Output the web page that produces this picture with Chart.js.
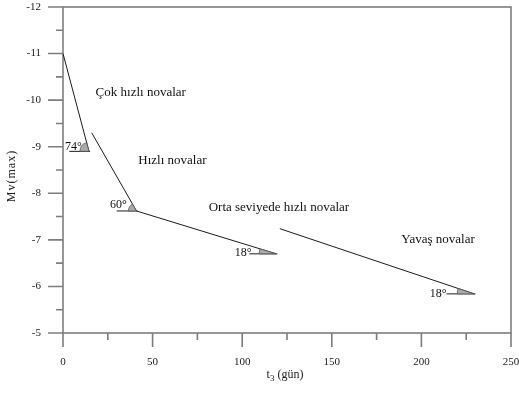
<!DOCTYPE html>
<html>
<head>
<meta charset="utf-8">
<script src="https://cdn.jsdelivr.net/npm/chart.js@4.4.1/dist/chart.umd.min.js"></script>
<style>
  html, body { margin: 0; padding: 0; background: #fff; }
  #wrap { width: 519px; height: 396px; }
</style>
</head>
<body>
<div id="wrap"><canvas id="novaChart" width="519" height="396"></canvas></div>
<script>
// axis ticks
const xTicks = [0, 50, 100, 150, 200, 250];
const xMinor = [25, 75, 125, 175, 225];
const yTicks = [-12, -11, -10, -9, -8, -7, -6, -5];
const yMinor = [-11.5, -10.5, -9.5, -8.5, -7.5, -6.5, -5.5];

// decline segments: t3 (days) and Mv(max)
const veryFastT = [0, 14.5];
const veryFastMv = [-11, -8.9];
const fastT = [16, 41];
const fastMv = [-9.3, -7.62];
const mediumT = [41, 119];
const mediumMv = [-7.62, -6.7];
const slowT = [121, 229.5];
const slowMv = [-7.24, -5.84];

// angle markers at the lower end of each segment
const angleText = ['74°', '60°', '18°', '18°'];
const angleBaseStartT = [3.5, 30, 104, 214];
const angleLabelT = [1.1, 26.2, 95.9, 204.6];
const angleLabelMv = [-8.99, -7.75, -6.72, -5.84];

// class names
const regionText = ['Çok hızlı novalar', 'Hızlı novalar', 'Orta seviyede hızlı novalar', 'Yavaş novalar'];
const regionT = [18.2, 42, 81.3, 188.8];
const regionMv = [-10.17, -8.71, -7.7, -7.0];

const segT = [veryFastT, fastT, mediumT, slowT];
const segMv = [veryFastMv, fastMv, mediumMv, slowMv];

const AXIS = '#7d7d7d';
const SERIF = "'Liberation Serif', 'Times New Roman', serif";
const wedgeRadius = [9, 8, 17, 17];

const toPts = (ts, ms) => ts.map((t, i) => ({ x: t, y: ms[i] }));

const datasets = [];
segT.forEach((ts, i) => {
  datasets.push({
    data: toPts(ts, segMv[i]),
    showLine: true, borderColor: '#1c1c1c', borderWidth: 1, pointRadius: 0
  });
  // short horizontal base under the angle marker
  const endT = ts[1], endMv = segMv[i][1];
  datasets.push({
    data: [{ x: angleBaseStartT[i], y: endMv }, { x: endT + 0.6, y: endMv }],
    showLine: true, borderColor: '#1c1c1c', borderWidth: 1, pointRadius: 0
  });
});

// box, tick marks, tick labels and axis titles
const framePlugin = {
  id: 'frame',
  beforeDatasetsDraw(chart) {
    const { ctx, chartArea: a, scales: { x, y } } = chart;
    ctx.save();
    ctx.strokeStyle = AXIS;
    ctx.lineWidth = 1.6;
    ctx.strokeRect(a.left, a.top, a.right - a.left, a.bottom - a.top);
    ctx.beginPath();
    yTicks.forEach(v => { const p = y.getPixelForValue(v); ctx.moveTo(a.left - 15, p); ctx.lineTo(a.left, p); });
    yMinor.forEach(v => { const p = y.getPixelForValue(v); ctx.moveTo(a.left - 7, p); ctx.lineTo(a.left, p); });
    xTicks.forEach(v => { const p = x.getPixelForValue(v); ctx.moveTo(p, a.bottom); ctx.lineTo(p, a.bottom + 14); });
    xMinor.forEach(v => { const p = x.getPixelForValue(v); ctx.moveTo(p, a.bottom); ctx.lineTo(p, a.bottom + 7); });
    ctx.stroke();

    ctx.fillStyle = '#222';
    ctx.font = '11px ' + SERIF;
    ctx.textBaseline = 'middle';
    ctx.textAlign = 'right';
    yTicks.forEach(v => ctx.fillText(String(v), a.left - 22, y.getPixelForValue(v)));
    ctx.textAlign = 'center';
    xTicks.forEach(v => ctx.fillText(String(v), x.getPixelForValue(v), a.bottom + 29));

    // y title
    ctx.save();
    ctx.translate(12, (a.top + a.bottom) / 2 + 6);
    ctx.rotate(-Math.PI / 2);
    ctx.font = '12px ' + SERIF;
    ctx.letterSpacing = '1px';
    ctx.fillText('Mv(max)', 0, 0);
    ctx.restore();

    // x title with subscript
    ctx.textAlign = 'left';
    const cx = (a.left + a.right) / 2, ty = a.bottom + 42;
    ctx.font = '12px ' + SERIF;
    const w1 = ctx.measureText('t').width;
    ctx.font = '9px ' + SERIF;
    const w2 = ctx.measureText('3').width;
    ctx.font = '12px ' + SERIF;
    const w3 = ctx.measureText(' (gün)').width;
    let px = cx - (w1 + w2 + w3) / 2 - 2;
    ctx.fillText('t', px, ty); px += w1;
    ctx.font = '9px ' + SERIF;
    ctx.fillText('3', px, ty + 4); px += w2;
    ctx.font = '12px ' + SERIF;
    ctx.fillText(' (gün)', px, ty);
    ctx.restore();
  }
};

// angle wedges, angle values and class names
const markPlugin = {
  id: 'marks',
  afterDatasetsDraw(chart) {
    const { ctx, scales: { x, y } } = chart;
    ctx.save();
    segT.forEach((ts, i) => {
      const vx = x.getPixelForValue(ts[1]), vy = y.getPixelForValue(segMv[i][1]);
      const sx = x.getPixelForValue(ts[0]), sy = y.getPixelForValue(segMv[i][0]);
      const ang = Math.atan2(sy - vy, sx - vx);
      ctx.beginPath();
      ctx.moveTo(vx, vy);
      ctx.arc(vx, vy, wedgeRadius[i], -Math.PI, ang, false);
      ctx.closePath();
      ctx.fillStyle = '#ababab';
      ctx.fill();
      ctx.strokeStyle = '#555';
      ctx.lineWidth = 0.8;
      ctx.stroke();
    });
    ctx.fillStyle = '#111';
    ctx.textBaseline = 'middle';
    ctx.textAlign = 'left';
    ctx.font = '12px ' + SERIF;
    angleText.forEach((s, i) => {
      ctx.fillText(s, x.getPixelForValue(angleLabelT[i]), y.getPixelForValue(angleLabelMv[i]));
    });
    ctx.font = '13px ' + SERIF;
    regionText.forEach((s, i) => {
      ctx.fillText(s, x.getPixelForValue(regionT[i]), y.getPixelForValue(regionMv[i]));
    });
    ctx.restore();
  }
};

new Chart(document.getElementById('novaChart'), {
  type: 'scatter',
  data: { datasets },
  options: {
    responsive: false,
    animation: false,
    layout: { padding: { top: 7, right: 8, left: 0, bottom: 0 } },
    plugins: { legend: { display: false }, tooltip: { enabled: false } },
    scales: {
      x: {
        type: 'linear', min: 0, max: 250,
        afterFit: s => { s.height = 63; },
        grid: { display: false }, border: { display: false },
        ticks: { display: false }
      },
      y: {
        type: 'linear', reverse: true, min: -12, max: -5,
        afterFit: s => { s.width = 63; },
        grid: { display: false }, border: { display: false },
        ticks: { display: false }
      }
    }
  },
  plugins: [framePlugin, markPlugin]
});
</script>
</body>
</html>
